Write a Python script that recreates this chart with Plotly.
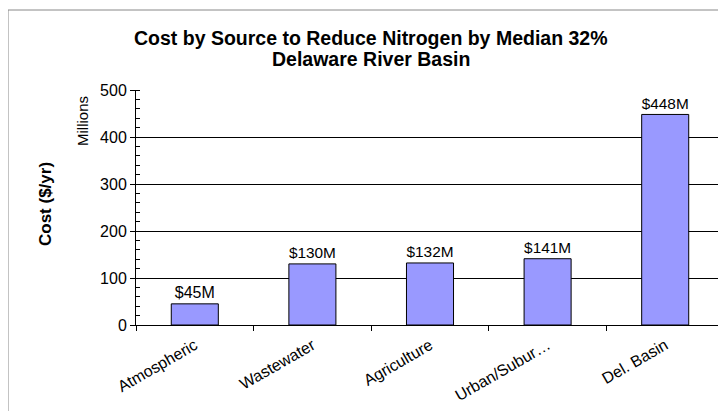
import plotly.graph_objects as go

categories = ["Atmospheric", "Wastewater", "Agriculture", "Urban/Subur…", "Del. Basin"]
values = [45, 130, 132, 141, 448]
labels = ["$45M", "$130M", "$132M", "$141M", "$448M"]
y_ticks = [0, 100, 200, 300, 400, 500]

fig = go.Figure(go.Bar(
    x=categories, y=values, text=labels, textposition="outside",
    marker=dict(color="#9999FF", line=dict(color="black", width=1)),
    textfont=dict(family="Liberation Sans, Arial", size=16, color="black"),
    cliponaxis=False,
))

# page offset (body margin) compensation
OFF = 8
W, H = 718, 403
L, R, T, B = 136 - OFF, 2, 90 - OFF, (OFF + H) - 325
pw, ph = W - L - R, H - T - B

def px(x):
    return (x - OFF - L) / pw

def py(y):
    return (H - B - (y - OFF)) / ph

fig.update_layout(
    width=W, height=H,
    margin=dict(l=L, r=R, t=T, b=B),
    paper_bgcolor="white", plot_bgcolor="white",
    bargap=0.6, showlegend=False,
    font=dict(family="Liberation Sans, Arial", color="black"),
    xaxis=dict(
        showline=True, linecolor="black", linewidth=1,
        ticks="outside", tickson="boundaries", ticklen=5, tickcolor="black",
        tickangle=-30, tickfont=dict(size=16), ticklabelstandoff=4,
        showgrid=False, automargin=False,
    ),
    yaxis=dict(
        range=[0, 500], tickvals=y_ticks, showline=True, linecolor="black", linewidth=1,
        ticks="outside", ticklen=5, tickcolor="black", tickfont=dict(size=16),
        showgrid=True, gridcolor="black", gridwidth=1,
        minor=dict(dtick=20, ticks="inside", ticklen=4, tickcolor="black", showgrid=False),
        zeroline=False, automargin=False,
    ),
    annotations=[
        dict(text="<b>Cost by Source to Reduce Nitrogen by Median 32%</b>", xref="paper", yref="paper",
             x=px(371), y=py(38), xanchor="center", yanchor="middle", showarrow=False,
             font=dict(size=19.5)),
        dict(text="<b>Delaware River Basin</b>", xref="paper", yref="paper",
             x=px(371), y=py(59), xanchor="center", yanchor="middle", showarrow=False,
             font=dict(size=19.5)),
        dict(text="<b>Cost ($/yr)</b>", textangle=-90, xref="paper", yref="paper",
             x=px(45), y=py(204), xanchor="center", yanchor="middle", showarrow=False,
             font=dict(size=17)),
        dict(text="Millions", textangle=-90, xref="paper", yref="paper",
             x=px(82), y=py(121), xanchor="center", yanchor="middle", showarrow=False,
             font=dict(size=15)),
    ],
    shapes=[
        dict(type="rect", xref="paper", yref="paper", x0=px(8), x1=px(760), y0=py(440), y1=py(10),
             line=dict(color="#888888", width=1), fillcolor="rgba(0,0,0,0)", layer="below"),
    ],
)

fig.write_html("out.html")
